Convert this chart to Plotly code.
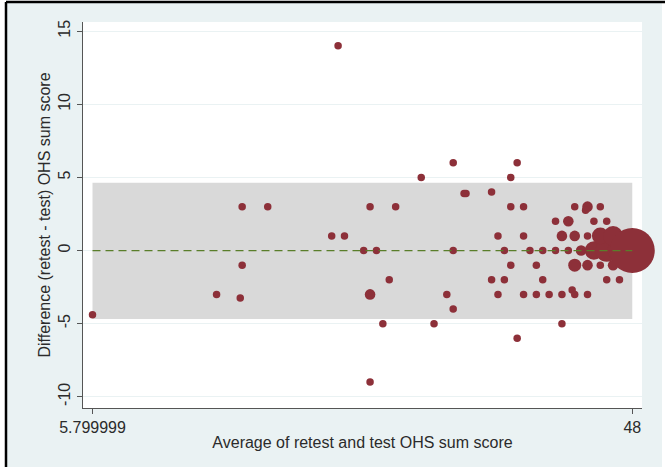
import plotly.graph_objects as go

# Bland-Altman data: mean of retest/test OHS, difference (retest - test), number of patients
avg_score = [
    5.8, 15.5, 17.5, 17.5, 17.35, 19.5, 24.5, 25.0, 25.5, 27.0, 28.0, 27.5, 27.5, 27.5,
    28.5, 29.0, 29.5, 31.5, 32.5, 33.5, 34.0, 34.0, 34.0, 34.85, 35.0, 37.0, 37.5, 37.0,
    37.5, 38.5, 39.0, 38.5, 39.5, 39.5, 38.0, 40.0, 38.5, 38.0, 39.5, 39.0, 41.0, 42.0,
    43.0, 44.0, 40.5, 41.0, 40.5, 41.5, 42.5, 43.3, 43.5, 44.5, 42.0, 43.0, 45.0, 46.0,
    43.5, 44.5, 44.35, 45.5, 42.5, 43.5, 44.5, 43.5, 44.5, 45.5, 46.5, 46.0, 47.0, 42.5,
    45.0, 46.0, 47.0, 45.5, 46.5, 48.0,
]
diff_score = [
    -4.4, -3.0, 3.0, -1.0, -3.25, 3.0, 1.0, 14.0, 1.0, 0.0, 0.0, 3.0, -3.0, -9.0,
    -5.0, -2.0, 3.0, 5.0, -5.0, -3.0, 6.0, 0.0, -4.0, 3.9, 3.9, 4.0, 1.0, -2.0,
    -3.0, 5.0, 6.0, 3.0, 3.0, 1.0, 0.0, 0.0, -1.0, -2.0, -3.0, -6.0, 0.0, 0.0,
    0.0, 0.0, -1.0, -2.0, -3.0, -3.0, -3.0, -2.7, -3.0, -3.0, 2.0, 2.0, 2.0, 2.0,
    3.0, 3.0, 2.75, 3.0, 1.0, 1.0, 1.0, -1.0, -1.0, -1.0, -1.0, -2.0, -2.0, -5.0,
    0.0, 0.0, 0.0, 1.0, 1.0, 0.0,
]
n_obs = [
    1, 1, 1, 1, 1, 1, 1, 1, 1, 1, 1, 1, 2, 1,
    1, 1, 1, 1, 1, 1, 1, 1, 1, 1, 1, 1, 1, 1,
    1, 1, 1, 1, 1, 1, 1, 1, 1, 1, 1, 1, 1, 1,
    1, 2, 1, 1, 1, 1, 1, 1, 1, 1, 1, 2, 1, 1,
    1, 2, 1, 1, 2, 2, 1, 3, 2, 1, 2, 1, 1, 1,
    6, 9, 10, 5, 7, 36,
]

# Limits of agreement and mean difference
mean_diff = 0.0
loa_lower = -4.68
loa_upper = 4.64
x_span = [5.799999, 48.0]

y_ticks = [-10, -5, 0, 5, 10, 15]
y_tick_text = ["-10", "-5", "0", "5", "10", "15"]
x_ticks = [5.799999, 48]
x_tick_text = ["5.799999", "48"]

W, H = 665, 467
L, R, T, B = 83, 23, 22, 59
pw, ph = W - L - R, H - T - B


def px_x(p):
    return (p - L) / pw


def px_y(p):
    return (H - B - p) / ph


MARKER = "#8d3039"
FONT = dict(family="Liberation Sans, Arial, sans-serif", size=16, color="#2b2b2b")

fig = go.Figure()

# Agreement band
fig.add_trace(go.Scatter(
    x=[x_span[0], x_span[1], x_span[1], x_span[0], x_span[0]],
    y=[loa_lower, loa_lower, loa_upper, loa_upper, loa_lower],
    mode="lines", fill="toself", fillcolor="#d9d9d9",
    line=dict(width=0), hoverinfo="skip", showlegend=False,
))

# Frequency-weighted points
fig.add_trace(go.Scatter(
    x=avg_score, y=diff_score, mode="markers",
    marker=dict(color=MARKER, size=n_obs, sizemode="area",
                sizeref=1 / 28.125, line=dict(width=0), opacity=1),
    cliponaxis=False, showlegend=False,
))

# Mean difference line, drawn over the points
fig.add_trace(go.Scatter(
    x=x_span, y=[mean_diff, mean_diff], mode="lines",
    line=dict(color="#5a7e2a", width=1.2, dash="8px,5px"),
    hoverinfo="skip", showlegend=False,
))

shapes = [
    # graph region background
    dict(type="rect", xref="paper", yref="paper", layer="below",
         x0=px_x(6), x1=px_x(662), y0=px_y(470), y1=px_y(3),
         fillcolor="#eaf2f3", line=dict(width=0)),
    # plot region
    dict(type="rect", xref="paper", yref="paper", layer="below",
         x0=0, x1=1, y0=0, y1=1, fillcolor="white", line=dict(width=0)),
    # outer frame (top and left edges)
    dict(type="line", xref="paper", yref="paper",
         x0=px_x(6), x1=px_x(700), y0=px_y(2), y1=px_y(2),
         line=dict(color="black", width=2.5)),
    dict(type="line", xref="paper", yref="paper",
         x0=px_x(6), x1=px_x(6), y0=px_y(2), y1=px_y(480),
         line=dict(color="black", width=2.5)),
]

fig.update_layout(
    width=W, height=H,
    margin=dict(l=L, r=R, t=T, b=B, pad=0),
    paper_bgcolor="white", plot_bgcolor="white",
    font=FONT, shapes=shapes, showlegend=False,
)

fig.update_xaxes(
    range=[5.057, 48.76], tickvals=x_ticks, ticktext=x_tick_text,
    showgrid=False, zeroline=False, showline=True, linecolor="#555555", linewidth=1.3,
    ticks="outside", ticklen=5, tickcolor="#555555", tickwidth=1,
    tickfont=FONT,
    title=dict(text="Average of retest and test OHS sum score", font=FONT, standoff=1),
)
fig.update_yaxes(
    range=[-10.77, 15.63], tickvals=y_ticks, ticktext=y_tick_text, tickangle=-90,
    showgrid=True, gridcolor="#eaf2f3", gridwidth=1,
    zeroline=False, showline=True, linecolor="#555555", linewidth=1.3,
    ticks="outside", ticklen=5, tickcolor="#555555", tickwidth=1,
    tickfont=FONT,
    title=dict(text="Difference (retest - test) OHS sum score", font=FONT, standoff=1),
)

fig.write_html("out.html")
